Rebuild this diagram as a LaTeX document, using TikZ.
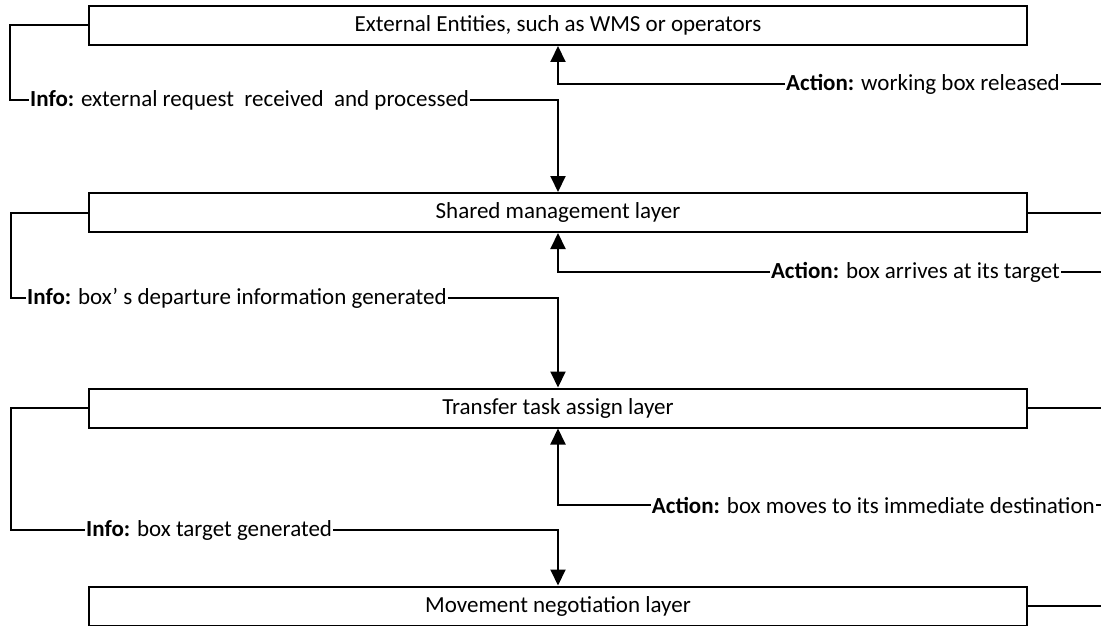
\documentclass[tikz,border=0pt]{standalone}
\usepackage{fontspec}
\setmainfont{Carlito}
\usetikzlibrary{arrows.meta}
\begin{document}
\begin{tikzpicture}[x=1pt,y=-1pt,
  every node/.style={font=\fontsize{23}{27}\selectfont},
  layer/.style={draw, line width=2pt, minimum width=938pt, minimum height=39pt, inner sep=0pt},
  msg/.style={inner sep=1pt},
  conn/.style={line width=2pt},
  flow/.style={conn, -{Triangle[width=15pt,length=16pt]}}]
\useasboundingbox (0,0) rectangle (1101,626);

% the four layers
\node[layer] (b1) at (558,25.5) {External Entities, such as WMS or operators};
\node[layer] (b2) at (558,212.5) {Shared management layer};
\node[layer] (b3) at (558,408) {Transfer task assign layer};
\node[layer] (b4) at (558,606) {Movement negotiation layer};

% downward information messages
\node[msg, anchor=west] (i1) at (29,100) {\textbf{Info:} external request\ \ received\ \ and processed};
\node[msg, anchor=west] (i2) at (26,298) {\textbf{Info:} box' s departure information generated};
\node[msg, anchor=west] (i3) at (85,530) {\textbf{Info:} box target generated};

% upward action messages
\node[msg, anchor=east] (a1) at (1061,84) {\textbf{Action:} working box released};
\node[msg, anchor=east] (a2) at (1061,272) {\textbf{Action:} box arrives at its target};
\node[msg, anchor=east] (a3) at (1096,505) {\textbf{Action:} box moves to its immediate destination};

% free ends at the right margin
\coordinate (r1) at (1101,84);
\coordinate (r2) at (1101,272);
\coordinate (r3) at (1101,505);
\coordinate (e2) at (1101,212.5);
\coordinate (e3) at (1101,408);
\coordinate (e4) at (1101,606);

% information paths: from a layer, round the left side, down into the next layer
\draw[conn] (b1.west) -- ++(-78,0) |- (i1.west);
\draw[flow] (i1.east) -| (b2.north);
\draw[conn] (b2.west) -- ++(-77,0) |- (i2.west);
\draw[flow] (i2.east) -| (b3.north);
\draw[conn] (b3.west) -- ++(-77,0) |- (i3.west);
\draw[flow] (i3.east) -| (b4.north);

% action paths: from the right margin, up into the layer above
\draw[conn] (r1) -- (a1.east);
\draw[flow] (a1.west) -| (b1.south);
\draw[conn] (r2) -- (a2.east);
\draw[flow] (a2.west) -| (b2.south);
\draw[conn] (r3) -- (a3.east);
\draw[flow] (a3.west) -| (b3.south);

% layer outputs to the right
\draw[conn] (b2.east) -- (e2);
\draw[conn] (b3.east) -- (e3);
\draw[conn] (b4.east) -- (e4);
\end{tikzpicture}
\end{document}
